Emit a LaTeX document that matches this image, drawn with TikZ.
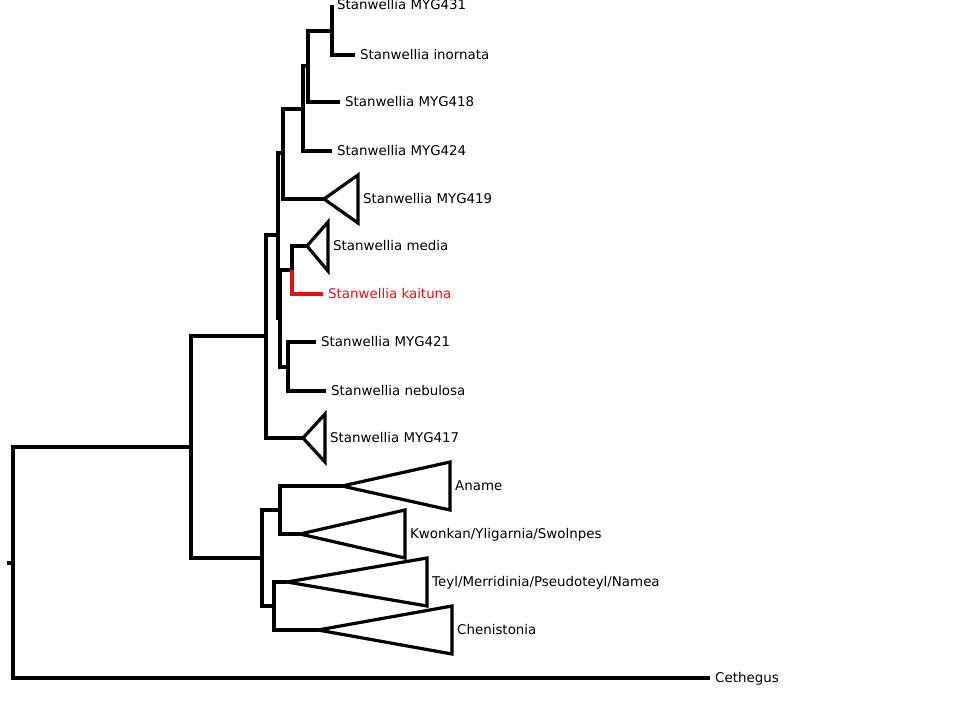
\documentclass[tikz,border=0pt]{standalone}
\usepackage{fontspec}
\setmainfont{DejaVu Sans}
\definecolor{kaitunared}{RGB}{225,20,20}
\begin{document}
\begin{tikzpicture}[x=1pt,y=-1pt,
  branch/.style={draw,line width=3.2pt},
  taxon/.style={anchor=west,inner sep=0pt,xshift=5pt,font=\fontsize{13.4}{16}\selectfont,text height=9.8pt,text depth=0pt}]
\useasboundingbox (0,0) rectangle (961,701);

% internal nodes
\coordinate (r) at (13,563);
\coordinate (a) at (191,447);
\coordinate (s) at (266,336);
\coordinate (e) at (278,235);
\coordinate (d) at (283,153);
\coordinate (c) at (303,109);
\coordinate (b) at (308,66);
\coordinate (n431) at (332,31);
\coordinate (f) at (280,318);
\coordinate (g) at (292,270);
\coordinate (h) at (288,367);
\coordinate (o) at (262,558);
\coordinate (u) at (280,510);
\coordinate (v) at (274,606);

% tips
\coordinate (stub) at (7,563);
\coordinate (t431) at (332,5);
\coordinate (tino) at (355,55);
\coordinate (t418) at (340,102);
\coordinate (t424) at (332,151);
\coordinate (t419) at (324,199);
\coordinate (tmed) at (307,246);
\coordinate (tkai) at (323,294);
\coordinate (t421) at (316,342);
\coordinate (tneb) at (326,391);
\coordinate (t417) at (303,438);
\coordinate (tana) at (342,486);
\coordinate (tkwo) at (300,534);
\coordinate (ttey) at (287,582);
\coordinate (tche) at (318,630);
\coordinate (tcet) at (710,678);

% right edges of collapsed clades
\coordinate (e419) at (358,199);
\coordinate (emed) at (328,246);
\coordinate (e417) at (325,438);
\coordinate (eana) at (450,486);
\coordinate (ekwo) at (405,534);
\coordinate (etey) at (427,582);
\coordinate (eche) at (452,630);

% branches
\path[branch] (r) -- (stub);
\path[branch] (r) |- (a);
\path[branch] (r) |- (tcet);
\path[branch] (a) |- (s);
\path[branch] (a) |- (o);
\path[branch] (s) |- (e);
\path[branch] (s) |- (t417);
\path[branch] (e) |- (d);
\path[branch] (e) |- (f);
\path[branch] (d) |- (c);
\path[branch] (d) |- (t419);
\path[branch] (c) |- (b);
\path[branch] (c) |- (t424);
\path[branch] (b) |- (n431);
\path[branch] (b) |- (t418);
\path[branch] (n431) -- (t431);
\path[branch] (n431) |- (tino);
\path[branch] (f) |- (g);
\path[branch] (f) |- (h);
\path[branch] (g) |- (tmed);
\path[branch,kaitunared] (g) |- (tkai);
\path[branch] (h) |- (t421);
\path[branch] (h) |- (tneb);
\path[branch] (o) |- (u);
\path[branch] (o) |- (v);
\path[branch] (u) |- (tana);
\path[branch] (u) |- (tkwo);
\path[branch] (v) |- (ttey);
\path[branch] (v) |- (tche);

% collapsed clades
\path[branch] (t419) -- (e419 |- 0,175) -- (e419 |- 0,223) -- cycle;
\path[branch] (tmed) -- (emed |- 0,222) -- (emed |- 0,271) -- cycle;
\path[branch] (t417) -- (e417 |- 0,414) -- (e417 |- 0,462) -- cycle;
\path[branch] (tana) -- (eana |- 0,462) -- (eana |- 0,510) -- cycle;
\path[branch] (tkwo) -- (ekwo |- 0,510) -- (ekwo |- 0,558) -- cycle;
\path[branch] (ttey) -- (etey |- 0,558) -- (etey |- 0,606) -- cycle;
\path[branch] (tche) -- (eche |- 0,606) -- (eche |- 0,654) -- cycle;

% labels
\node[taxon] (l431) at (t431) {Stanwellia MYG431};
\node[taxon] (lino) at (tino) {Stanwellia inornata};
\node[taxon] (l418) at (t418) {Stanwellia MYG418};
\node[taxon] (l424) at (t424) {Stanwellia MYG424};
\node[taxon] (l419) at (e419) {Stanwellia MYG419};
\node[taxon] (lmed) at (emed) {Stanwellia media};
\node[taxon,kaitunared] (lkai) at (tkai) {Stanwellia kaituna};
\node[taxon] (l421) at (t421) {Stanwellia MYG421};
\node[taxon] (lneb) at (tneb) {Stanwellia nebulosa};
\node[taxon] (l417) at (e417) {Stanwellia MYG417};
\node[taxon] (lana) at (eana) {Aname};
\node[taxon] (lkwo) at (ekwo) {Kwonkan/Yligarnia/Swolnpes};
\node[taxon] (ltey) at (etey) {Teyl/Merridinia/Pseudoteyl/Namea};
\node[taxon] (lche) at (eche) {Chenistonia};
\node[taxon] (lcet) at (tcet) {Cethegus};
\end{tikzpicture}
\end{document}
